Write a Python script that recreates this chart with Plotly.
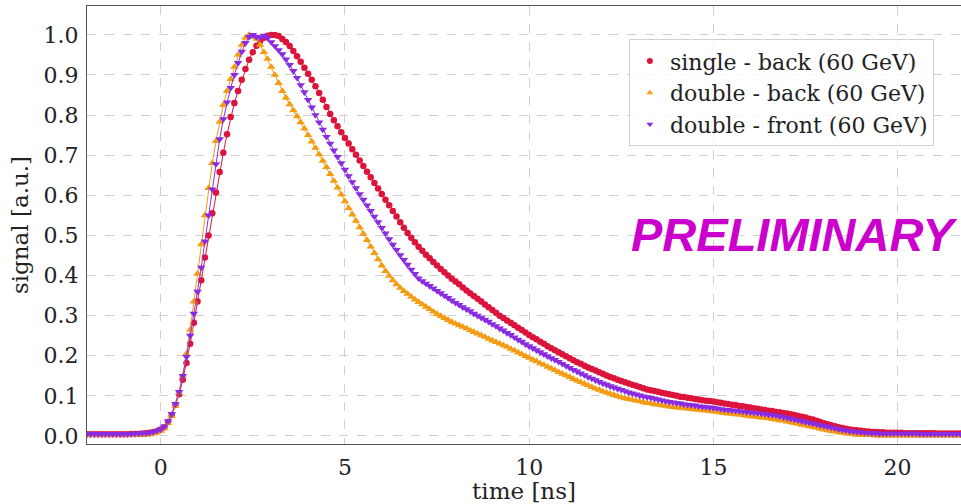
import numpy as np
import plotly.graph_objects as go

# sample times [ns], 0.1 ns sampling from -2.0 to 22.0
time_ns = [round(-2.0 + 0.1 * i, 1) for i in range(241)]

single_back = (
    [0.004, 0.004, 0.004, 0.004, 0.004, 0.004, 0.004, 0.004, 0.004, 0.004]
    + [0.004, 0.004, 0.005, 0.005, 0.005, 0.006, 0.007, 0.008, 0.010, 0.012]
    + [0.016, 0.022, 0.035, 0.052, 0.077, 0.104, 0.140, 0.182, 0.230, 0.282]
    + [0.335, 0.388, 0.445, 0.500, 0.555, 0.607, 0.658, 0.706, 0.752, 0.795]
    + [0.830, 0.860, 0.888, 0.915, 0.938, 0.957, 0.973, 0.985, 0.993, 0.998]
    + [1.000, 1.000, 0.997, 0.990, 0.982, 0.972, 0.960, 0.947, 0.933, 0.918]
    + [0.903, 0.888, 0.872, 0.855, 0.838, 0.820, 0.803, 0.787, 0.772, 0.757]
    + [0.743, 0.729, 0.715, 0.701, 0.687, 0.673, 0.659, 0.645, 0.631, 0.617]
    + [0.603, 0.589, 0.575, 0.561, 0.547, 0.533, 0.519, 0.506, 0.494, 0.483]
    + [0.472, 0.462, 0.452, 0.443, 0.434, 0.425, 0.416, 0.408, 0.400, 0.392]
    + [0.385, 0.378, 0.370, 0.363, 0.356, 0.349, 0.342, 0.335, 0.328, 0.321]
    + [0.314, 0.307, 0.300, 0.294, 0.288, 0.282, 0.276, 0.270, 0.264, 0.258]
    + [0.252, 0.246, 0.241, 0.235, 0.230, 0.224, 0.219, 0.214, 0.209, 0.204]
    + [0.199, 0.194, 0.189, 0.184, 0.180, 0.175, 0.171, 0.167, 0.163, 0.159]
    + [0.155, 0.151, 0.147, 0.144, 0.140, 0.137, 0.134, 0.131, 0.128, 0.125]
    + [0.122, 0.119, 0.116, 0.114, 0.112, 0.110, 0.108, 0.106, 0.104, 0.102]
    + [0.100, 0.098, 0.097, 0.095, 0.094, 0.092, 0.091, 0.089, 0.088, 0.087]
    + [0.086, 0.084, 0.083, 0.081, 0.080, 0.078, 0.077, 0.075, 0.074, 0.072]
    + [0.071, 0.069, 0.068, 0.066, 0.065, 0.063, 0.062, 0.060, 0.059, 0.057]
    + [0.056, 0.054, 0.052, 0.050, 0.048, 0.046, 0.043, 0.041, 0.038, 0.035]
    + [0.032, 0.029, 0.027, 0.024, 0.022, 0.020, 0.018, 0.016, 0.015, 0.014]
    + [0.013, 0.012, 0.011, 0.010, 0.010, 0.009, 0.009, 0.008, 0.008, 0.008]
    + [0.008, 0.008, 0.007, 0.007, 0.007, 0.007, 0.007, 0.007, 0.007, 0.007]
    + [0.007, 0.006, 0.006, 0.006, 0.006, 0.006, 0.006, 0.006, 0.006, 0.006]
    + [0.006]
)

double_back = (
    [0.002, 0.002, 0.002, 0.002, 0.002, 0.002, 0.002, 0.002, 0.002, 0.002]
    + [0.002, 0.002, 0.002, 0.002, 0.002, 0.003, 0.003, 0.004, 0.006, 0.009]
    + [0.013, 0.020, 0.032, 0.050, 0.075, 0.108, 0.150, 0.205, 0.265, 0.335]
    + [0.405, 0.478, 0.550, 0.618, 0.680, 0.735, 0.783, 0.825, 0.860, 0.890]
    + [0.920, 0.950, 0.975, 0.993, 1.000, 0.995, 0.990, 0.975, 0.957, 0.940]
    + [0.920, 0.900, 0.880, 0.860, 0.843, 0.827, 0.812, 0.797, 0.782, 0.766]
    + [0.750, 0.734, 0.718, 0.702, 0.686, 0.670, 0.653, 0.636, 0.619, 0.602]
    + [0.585, 0.568, 0.552, 0.536, 0.520, 0.504, 0.488, 0.472, 0.456, 0.440]
    + [0.425, 0.411, 0.399, 0.388, 0.378, 0.369, 0.361, 0.354, 0.347, 0.340]
    + [0.334, 0.328, 0.322, 0.316, 0.310, 0.304, 0.299, 0.294, 0.289, 0.284]
    + [0.280, 0.276, 0.272, 0.268, 0.263, 0.259, 0.255, 0.251, 0.247, 0.242]
    + [0.238, 0.234, 0.230, 0.226, 0.222, 0.217, 0.213, 0.208, 0.204, 0.199]
    + [0.195, 0.190, 0.186, 0.181, 0.177, 0.172, 0.168, 0.164, 0.159, 0.155]
    + [0.151, 0.147, 0.142, 0.138, 0.134, 0.130, 0.126, 0.122, 0.118, 0.115]
    + [0.111, 0.108, 0.105, 0.102, 0.099, 0.096, 0.094, 0.092, 0.090, 0.088]
    + [0.086, 0.084, 0.082, 0.081, 0.079, 0.078, 0.076, 0.075, 0.073, 0.072]
    + [0.071, 0.070, 0.069, 0.068, 0.067, 0.066, 0.065, 0.064, 0.063, 0.062]
    + [0.061, 0.060, 0.058, 0.057, 0.056, 0.055, 0.054, 0.053, 0.052, 0.050]
    + [0.049, 0.048, 0.047, 0.046, 0.045, 0.044, 0.042, 0.041, 0.039, 0.038]
    + [0.036, 0.034, 0.032, 0.030, 0.028, 0.026, 0.024, 0.022, 0.020, 0.018]
    + [0.016, 0.014, 0.012, 0.011, 0.009, 0.008, 0.007, 0.005, 0.004, 0.003]
    + [0.002, 0.002, 0.002, 0.002, 0.001, 0.001, 0.001, 0.001, 0.001, 0.001]
    + [0.001, 0.001, 0.001, 0.001, 0.001, 0.001, 0.001, 0.001, 0.001, 0.001]
    + [0.001, 0.001, 0.001, 0.001, 0.001, 0.001, 0.001, 0.001, 0.001, 0.001]
    + [0.001]
)

double_front = (
    [0.005, 0.005, 0.005, 0.005, 0.005, 0.005, 0.005, 0.005, 0.005, 0.005]
    + [0.005, 0.005, 0.005, 0.006, 0.006, 0.007, 0.007, 0.008, 0.010, 0.013]
    + [0.017, 0.024, 0.037, 0.055, 0.080, 0.110, 0.150, 0.197, 0.250, 0.305]
    + [0.360, 0.420, 0.485, 0.550, 0.615, 0.678, 0.740, 0.790, 0.832, 0.868]
    + [0.900, 0.930, 0.958, 0.980, 0.995, 1.000, 0.995, 0.993, 0.998, 0.992]
    + [0.982, 0.972, 0.962, 0.952, 0.939, 0.925, 0.910, 0.893, 0.875, 0.857]
    + [0.838, 0.819, 0.800, 0.782, 0.764, 0.746, 0.729, 0.712, 0.696, 0.680]
    + [0.664, 0.648, 0.633, 0.618, 0.603, 0.589, 0.575, 0.561, 0.547, 0.533]
    + [0.519, 0.505, 0.491, 0.477, 0.464, 0.451, 0.439, 0.427, 0.415, 0.404]
    + [0.393, 0.386, 0.380, 0.374, 0.368, 0.362, 0.356, 0.350, 0.344, 0.338]
    + [0.332, 0.327, 0.321, 0.316, 0.311, 0.305, 0.300, 0.295, 0.290, 0.285]
    + [0.279, 0.274, 0.268, 0.263, 0.257, 0.252, 0.246, 0.240, 0.235, 0.229]
    + [0.224, 0.219, 0.214, 0.209, 0.204, 0.199, 0.194, 0.190, 0.185, 0.180]
    + [0.175, 0.170, 0.165, 0.161, 0.156, 0.152, 0.147, 0.143, 0.139, 0.135]
    + [0.131, 0.128, 0.124, 0.121, 0.118, 0.115, 0.112, 0.109, 0.106, 0.104]
    + [0.101, 0.099, 0.097, 0.095, 0.093, 0.091, 0.089, 0.087, 0.085, 0.084]
    + [0.082, 0.081, 0.079, 0.078, 0.077, 0.076, 0.074, 0.073, 0.072, 0.071]
    + [0.070, 0.069, 0.067, 0.066, 0.065, 0.064, 0.063, 0.062, 0.061, 0.060]
    + [0.059, 0.058, 0.057, 0.056, 0.055, 0.053, 0.052, 0.051, 0.049, 0.047]
    + [0.045, 0.043, 0.041, 0.039, 0.037, 0.035, 0.033, 0.031, 0.029, 0.027]
    + [0.025, 0.023, 0.021, 0.019, 0.017, 0.015, 0.014, 0.012, 0.011, 0.010]
    + [0.009, 0.008, 0.008, 0.007, 0.007, 0.006, 0.006, 0.006, 0.006, 0.006]
    + [0.006, 0.006, 0.006, 0.006, 0.006, 0.006, 0.005, 0.005, 0.005, 0.005]
    + [0.005, 0.005, 0.005, 0.005, 0.005, 0.005, 0.005, 0.005, 0.005, 0.005]
    + [0.005]
)

series_names = ["single - back (60 GeV)", "double - back (60 GeV)", "double - front (60 GeV)"]
series_values = [single_back, double_back, double_front]
series_colors = ["#dc143c", "#f39c12", "#8a2be2"]
series_symbols = ["circle", "triangle-up", "triangle-down"]
series_sizes = [6.5, 7.5, 7.5]

y_ticks = [0.0, 0.1, 0.2, 0.3, 0.4, 0.5, 0.6, 0.7, 0.8, 0.9, 1.0]
x_ticks = [0, 5, 10, 15, 20]

SERIF = "DejaVu Serif"
TXT = "#222222"
fig = go.Figure()

for name, vals, col, sym, sz in zip(series_names, series_values, series_colors,
                                    series_symbols, series_sizes):
    fig.add_trace(go.Scatter(
        x=time_ns, y=vals, mode="lines+markers", name=name, showlegend=False,
        line=dict(color=col, width=1),
        marker=dict(symbol=sym, size=sz, color=col, line=dict(width=0)),
    ))

# legend entries (markers only, like the reference legend)
for i, (name, col, sym) in enumerate(zip(series_names, series_colors, series_symbols)):
    fig.add_trace(go.Scatter(
        x=[None], y=[None], mode="markers", name=name, legendgroup=f"g{i}",
        marker=dict(symbol=sym, size=6, color=col, line=dict(width=0)),
    ))

fig.add_annotation(
    text="<b><i>PRELIMINARY</i></b>", xref="paper", yref="paper",
    x=0.6200, y=0.479, xanchor="left", yanchor="middle", showarrow=False,
    font=dict(family="Liberation Sans", size=47, color="#cc00cc"),
)

axis_common = dict(
    showgrid=True, gridcolor="#d0d0d0", griddash="dash", gridwidth=1,
    showline=True, linecolor="#555555", linewidth=1.2, mirror=True,
    ticks="outside", ticklen=3, tickcolor="rgba(0,0,0,0)",
    tickfont=dict(family=SERIF, size=22, color=TXT),
    zeroline=False,
)

fig.update_xaxes(
    range=[-2.0, 21.72], tickvals=x_ticks, ticktext=[str(v) for v in x_ticks],
    title=dict(text="time [ns]", font=dict(family=SERIF, size=23, color=TXT),
               standoff=9),
    **axis_common,
)
fig.update_yaxes(
    range=[-0.02, 1.072], tickvals=y_ticks, ticktext=[f"{v:.1f}" for v in y_ticks],
    title=dict(text="signal [a.u.]", font=dict(family=SERIF, size=23, color=TXT),
               standoff=8),
    **axis_common,
)

fig.update_layout(
    width=961, height=504,
    margin=dict(l=87, r=0, t=6, b=60),
    plot_bgcolor="white", paper_bgcolor="white",
    legend=dict(
        x=0.620, y=0.924, xanchor="left", yanchor="top",
        bgcolor="rgba(255,255,255,0.8)", bordercolor="#d0d0d0", borderwidth=1,
        font=dict(family=SERIF, size=22, color=TXT),
        tracegroupgap=0,
    ),
)

fig.write_html("out.html")
